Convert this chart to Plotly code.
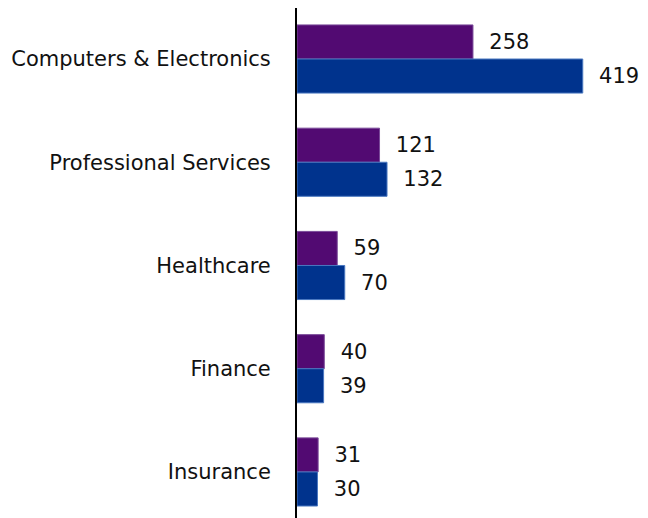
import plotly.graph_objects as go

categories = ["Computers & Electronics", "Professional Services", "Healthcare", "Finance", "Insurance"]
series_a = [258, 121, 59, 40, 31]
series_b = [419, 132, 70, 39, 30]

font_family = "DejaVu Sans, Noto Sans, sans-serif"

fig = go.Figure()
fig.add_trace(go.Bar(
    y=categories, x=series_a, orientation="h", name="A",
    marker=dict(color="#520A72", line=dict(color="#7A4A99", width=1)),
    text=series_a, texttemplate="\u00a0\u00a0%{x}", textposition="outside",
    textfont=dict(size=21, color="#111111", family=font_family),
    cliponaxis=False,
))
fig.add_trace(go.Bar(
    y=categories, x=series_b, orientation="h", name="B",
    marker=dict(color="#00338D", line=dict(color="#4A78C0", width=1)),
    text=series_b, texttemplate="\u00a0\u00a0%{x}", textposition="outside",
    textfont=dict(size=21, color="#111111", family=font_family),
    cliponaxis=False,
))

fig.update_layout(
    width=648, height=518,
    margin=dict(l=297, r=10, t=8, b=0),
    barmode="group", bargap=0.34, bargroupgap=0,
    plot_bgcolor="white", paper_bgcolor="white",
    showlegend=False,
    font=dict(family=font_family, size=21, color="#111111"),
    xaxis=dict(range=[0, 500], visible=False, showgrid=False, zeroline=False, fixedrange=True),
    yaxis=dict(
        type="category", categoryorder="array", categoryarray=categories,
        range=[4.446, -0.494],
        showline=True, linecolor="black", linewidth=2,
        showgrid=False, zeroline=False, ticks="", ticklabelstandoff=20,
        tickfont=dict(size=21, family=font_family, color="#111111"),
    ),
)

fig.write_html("out.html")
